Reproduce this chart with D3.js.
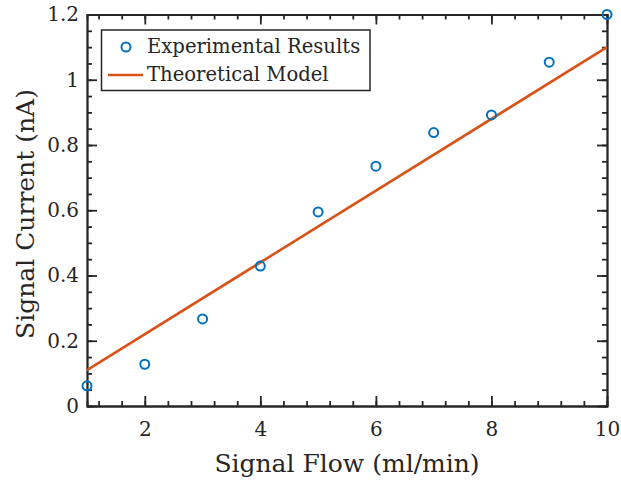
<!DOCTYPE html>
<meta charset="utf-8">
<head>
  <style>
    body { margin: 0; background: #fff; }
    text { font-family: "DejaVu Serif", "Liberation Serif", serif; fill: #262626; }
    .axis path, .axis line { stroke: #262626; stroke-width: 1.8; }
    .axis text { font-size: 20px; }
  </style>
  <script src="https://cdnjs.cloudflare.com/ajax/libs/d3/7.8.5/d3.min.js"></script>
</head>
<body>
<script>

// values
var flow = [1, 2, 3, 4, 5, 6, 7, 8, 9, 10];
var current = [0.062, 0.128, 0.267, 0.429, 0.595, 0.735, 0.838, 0.892, 1.054, 1.2];
var modelFlow = [1, 10];
var modelCurrent = [0.11, 1.1];
var xTicks = [2, 4, 6, 8, 10];
var yTicks = [0, 0.2, 0.4, 0.6, 0.8, 1, 1.2];

var width = 621, height = 481;
var mLeft = 87, mRight = 607, mTop = 14.5, mBottom = 406;

var svg = d3.select("body").append("svg")
    .attr("width", width)
    .attr("height", height);

var x = d3.scaleLinear().domain([1, 10]).range([mLeft, mRight]);
var y = d3.scaleLinear().domain([0, 1.2]).range([mBottom, mTop]);

var xMinor = d3.range(1.2, 10, 0.4);
var yMinor = d3.range(0.05, 1.2, 0.05);

// minor ticks on all four sides
svg.append("g").attr("class", "axis").attr("transform", "translate(0," + mBottom + ")")
    .call(d3.axisBottom(x).tickValues(xMinor).tickSize(-5).tickFormat(""));
svg.append("g").attr("class", "axis").attr("transform", "translate(0," + mTop + ")")
    .call(d3.axisTop(x).tickValues(xMinor).tickSize(-5).tickFormat(""));
svg.append("g").attr("class", "axis").attr("transform", "translate(" + mLeft + ",0)")
    .call(d3.axisLeft(y).tickValues(yMinor).tickSize(-5).tickFormat(""));
svg.append("g").attr("class", "axis").attr("transform", "translate(" + mRight + ",0)")
    .call(d3.axisRight(y).tickValues(yMinor).tickSize(-5).tickFormat(""));

// major ticks
svg.append("g").attr("class", "axis").attr("transform", "translate(0," + mBottom + ")")
    .call(d3.axisBottom(x).tickValues(xTicks).tickSizeInner(-10).tickSizeOuter(0).tickPadding(16));
svg.append("g").attr("class", "axis").attr("transform", "translate(0," + mTop + ")")
    .call(d3.axisTop(x).tickValues(xTicks).tickSizeInner(-10).tickSizeOuter(0).tickFormat(""));
svg.append("g").attr("class", "axis").attr("transform", "translate(" + mLeft + ",0)")
    .call(d3.axisLeft(y).tickValues(yTicks).tickSizeInner(-10).tickSizeOuter(0).tickPadding(8)
      .tickFormat(d3.format("~g")));
svg.append("g").attr("class", "axis").attr("transform", "translate(" + mRight + ",0)")
    .call(d3.axisRight(y).tickValues(yTicks).tickSizeInner(-10).tickSizeOuter(0).tickFormat(""));

svg.selectAll(".axis text").style("fill", "#262626");

// model line
var line = d3.line()
    .x(function(d) { return x(d[0]); })
    .y(function(d) { return y(d[1]); });

svg.append("path")
    .datum(d3.zip(modelFlow, modelCurrent))
    .attr("d", line)
    .attr("fill", "none")
    .attr("stroke", "#D95319")
    .attr("stroke-width", 2.6);

// experimental points
svg.append("g").selectAll("circle")
    .data(d3.zip(flow, current))
    .enter().append("circle")
    .attr("cx", function(d) { return x(d[0]); })
    .attr("cy", function(d) { return y(d[1]); })
    .attr("r", 4.5)
    .attr("fill", "none")
    .attr("stroke", "#0072BD")
    .attr("stroke-width", 2);

// axis labels
svg.append("text")
    .attr("x", (mLeft + mRight) / 2)
    .attr("y", 472)
    .attr("text-anchor", "middle")
    .style("font-size", "25px")
    .text("Signal Flow (ml/min)");

svg.append("text")
    .attr("transform", "translate(34,214) rotate(-90)")
    .attr("text-anchor", "middle")
    .style("font-size", "25px")
    .text("Signal Current (nA)");

// legend
var lg = svg.append("g");
lg.append("rect")
    .attr("x", 101.5).attr("y", 30)
    .attr("width", 268.5).attr("height", 60.5)
    .attr("fill", "#fff")
    .attr("stroke", "#262626")
    .attr("stroke-width", 1.5);
lg.append("circle")
    .attr("cx", 126).attr("cy", 47).attr("r", 4.5)
    .attr("fill", "none").attr("stroke", "#0072BD").attr("stroke-width", 2);
lg.append("line")
    .attr("x1", 108).attr("x2", 143).attr("y1", 75).attr("y2", 75)
    .attr("stroke", "#D95319").attr("stroke-width", 2.6);
lg.append("text")
    .attr("x", 147).attr("y", 53)
    .style("font-size", "19.6px")
    .text("Experimental Results");
lg.append("text")
    .attr("x", 147).attr("y", 81)
    .style("font-size", "19.6px")
    .text("Theoretical Model");

</script>
</body>
